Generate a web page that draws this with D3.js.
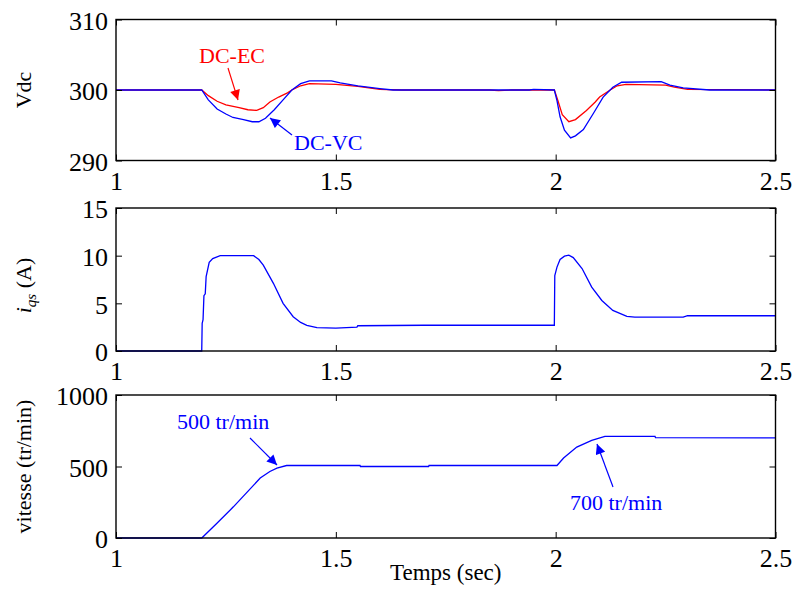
<!DOCTYPE html>
<html>
<head>
<meta charset="utf-8">
<script src="https://cdn.jsdelivr.net/npm/d3@7"></script>
<style>
  html, body { margin: 0; padding: 0; background: #fff; }
  svg { display: block; }
  text { font-family: "Liberation Serif", "Times New Roman", serif; }
</style>
</head>
<body>
<svg id="chart" width="792" height="590"></svg>
<script>
// ---------- DATA ----------
const xTicks = [1, 1.5, 2, 2.5];
const xTickLabels = ["1", "1.5", "2", "2.5"];

// Panel 1 : Vdc
const vdcTicks = [290, 300, 310];
const vdcEcTime = [1.0, 1.195, 1.21, 1.23, 1.25, 1.28, 1.30, 1.32, 1.335, 1.35, 1.37, 1.39, 1.40, 1.42, 1.44, 1.50, 1.55, 1.60, 1.65, 1.85, 1.87, 1.90, 1.997, 2.005, 2.015, 2.03, 2.045, 2.07, 2.09, 2.10, 2.124, 2.14, 2.16, 2.25, 2.27, 2.30, 2.5];
const vdcEc     = [300, 300, 299.2, 298.4, 297.9, 297.5, 297.2, 297.1, 297.5, 298.3, 299.0, 299.6, 300.0, 300.6, 300.9, 300.8, 300.5, 300.1, 300.0, 300.0, 299.9, 300.0, 300.0, 298.5, 296.5, 295.5, 295.8, 297.1, 298.3, 299.0, 300.0, 300.6, 300.8, 300.7, 300.4, 300.1, 300.0];
const vdcVcTime = [1.0, 1.195, 1.21, 1.23, 1.25, 1.266, 1.29, 1.31, 1.325, 1.34, 1.36, 1.38, 1.40, 1.42, 1.44, 1.49, 1.51, 1.55, 1.60, 1.63, 1.94, 1.95, 1.997, 2.003, 2.01, 2.02, 2.034, 2.045, 2.063, 2.086, 2.108, 2.13, 2.15, 2.24, 2.26, 2.29, 2.35, 2.5];
const vdcVc     = [300, 300, 298.6, 297.3, 296.6, 296.1, 295.8, 295.5, 295.5, 296.0, 297.2, 298.6, 300.0, 300.9, 301.3, 301.3, 301.0, 300.6, 300.2, 300.0, 300.0, 300.1, 300.0, 298.5, 296.2, 294.3, 293.2, 293.5, 294.4, 296.7, 299.0, 300.4, 301.1, 301.2, 300.7, 300.3, 300.0, 300.0];

// Panel 2 : iqs
const iqsTicks = [0, 5, 10, 15];
const iqsTime = [1.0, 1.195, 1.196, 1.198, 1.200, 1.203, 1.205, 1.212, 1.22, 1.237, 1.313, 1.325, 1.335, 1.358, 1.38, 1.403, 1.42, 1.434, 1.457, 1.50, 1.548, 1.55, 1.70, 1.997, 1.998, 2.003, 2.01, 2.02, 2.03, 2.04, 2.06, 2.082, 2.105, 2.13, 2.162, 2.18, 2.29, 2.30, 2.5];
const iqs     = [0, 0, 2.9, 3.3, 5.8, 6.0, 7.8, 9.3, 9.7, 10.0, 10.0, 9.6, 9.0, 7.1, 5.0, 3.6, 3.0, 2.7, 2.45, 2.4, 2.5, 2.65, 2.7, 2.7, 7.9, 8.8, 9.6, 9.95, 10.05, 9.8, 8.65, 6.7, 5.3, 4.26, 3.63, 3.55, 3.55, 3.7, 3.7];

// Panel 3 : vitesse
const speedTicks = [0, 500, 1000];
const speedTime = [1.0, 1.195, 1.229, 1.267, 1.328, 1.35, 1.366, 1.388, 1.555, 1.556, 1.711, 1.712, 2.003, 2.018, 2.048, 2.082, 2.112, 2.226, 2.227, 2.5];
const speed     = [0, 0, 101, 218, 419, 465, 489, 507, 507, 500, 500, 507, 507, 559, 636, 683, 711, 711, 702, 700];

// ---------- LAYOUT ----------
const svg = d3.select("#chart");
const X0 = 116, X1 = 775.5;
const panels = [
  { top: 19.5, bottom: 160.5, domain: [290, 310], ticks: vdcTicks, label: "Vdc",
    series: [{ t: vdcEcTime, v: vdcEc, color: "#ff0000" }, { t: vdcVcTime, v: vdcVc, color: "#0000ff" }] },
  { top: 208, bottom: 351, domain: [0, 15], ticks: iqsTicks, label: "iqs",
    series: [{ t: iqsTime, v: iqs, color: "#0000ff" }] },
  { top: 395, bottom: 538, domain: [0, 1000], ticks: speedTicks, label: "vitesse (tr/min)",
    series: [{ t: speedTime, v: speed, color: "#0000ff" }] }
];

const x = d3.scaleLinear().domain([1, 2.5]).range([X0, X1]);
const tickFont = 26;
const TICK = 6;

panels.forEach(p => {
  const y = d3.scaleLinear().domain(p.domain).range([p.bottom, p.top]);
  p.y = y;
  const g = svg.append("g");

  // series
  p.series.forEach(s => {
    const pts = s.t.map((t, i) => [t, s.v[i]]);
    g.append("path")
      .datum(pts)
      .attr("fill", "none")
      .attr("stroke", s.color)
      .attr("stroke-width", 1.3)
      .attr("d", d3.line().x(d => x(d[0])).y(d => y(d[1])));
  });

  // axes
  const ax = (gen, tr, showLabels) => {
    const a = g.append("g").attr("transform", tr).call(gen);
    a.select(".domain").remove();
    a.selectAll(".tick line").attr("stroke", "#000").attr("stroke-width", 1);
    a.selectAll("text").attr("font-size", tickFont).attr("fill", "#000")
      .attr("font-family", '"Liberation Serif", "Times New Roman", serif');
    if (!showLabels) a.selectAll("text").remove();
    return a;
  };
  ax(d3.axisBottom(x).tickValues(xTicks).tickFormat((d, i) => xTickLabels[i]).tickSizeInner(-TICK).tickSizeOuter(0).tickPadding(11),
     `translate(0,${p.bottom})`, true);
  ax(d3.axisTop(x).tickValues(xTicks).tickSizeInner(-TICK).tickSizeOuter(0), `translate(0,${p.top})`, false);
  const la = ax(d3.axisLeft(y).tickValues(p.ticks).tickFormat(d3.format("d")).tickSizeInner(-TICK).tickSizeOuter(0).tickPadding(8),
     `translate(${X0},0)`, true);
  la.selectAll("text").attr("dy", "0.38em");
  ax(d3.axisRight(y).tickValues(p.ticks).tickSizeInner(-TICK).tickSizeOuter(0), `translate(${X1},0)`, false);

  // frame
  g.append("rect")
    .attr("x", X0).attr("y", p.top)
    .attr("width", X1 - X0).attr("height", p.bottom - p.top)
    .attr("fill", "none").attr("stroke", "#000").attr("stroke-width", 1.4);

  // y label
  const cy = (p.top + p.bottom) / 2;
  const lab = svg.append("text")
    .attr("transform", `translate(31,${cy}) rotate(-90)`)
    .attr("text-anchor", "middle")
    .attr("font-size", 22)
    .attr("fill", "#000");
  if (p.label === "iqs") {
    lab.attr("transform", `translate(31,${cy + 6}) rotate(-90)`);
    lab.append("tspan").attr("font-style", "italic").text("i");
    lab.append("tspan").attr("font-style", "italic").attr("font-size", 15).attr("dy", 5).text("qs");
    lab.append("tspan").attr("dy", -5).text(" (A)");
  } else {
    lab.text(p.label);
  }
});

// x axis label
svg.append("text")
  .attr("x", (X0 + X1) / 2).attr("y", 580)
  .attr("text-anchor", "middle")
  .attr("font-size", 23)
  .attr("fill", "#000")
  .text("Temps (sec)");

// ---------- ANNOTATIONS ----------
const defs = svg.append("defs");
[["arrRed", "#ff0000"], ["arrBlue", "#0000ff"]].forEach(([id, c]) => {
  defs.append("marker")
    .attr("id", id).attr("viewBox", "0 0 10 10")
    .attr("refX", 10).attr("refY", 5)
    .attr("markerWidth", 11).attr("markerHeight", 10)
    .attr("markerUnits", "userSpaceOnUse")
    .attr("orient", "auto")
    .append("path").attr("d", "M0,0 L10,5 L0,10 Z").attr("fill", c);
});

function annotate(txt, tx, ty, color, marker, from, to) {
  svg.append("text").attr("x", tx).attr("y", ty)
    .attr("font-size", 22).attr("fill", color).text(txt);
  svg.append("line")
    .attr("x1", from[0]).attr("y1", from[1]).attr("x2", to[0]).attr("y2", to[1])
    .attr("stroke", color).attr("stroke-width", 1.2)
    .attr("marker-end", `url(#${marker})`);
}
annotate("DC-EC", 199, 63, "#ff0000", "arrRed", [228, 68], [238, 100]);
annotate("DC-VC", 294, 150, "#0000ff", "arrBlue", [292, 135], [270, 118]);
annotate("500 tr/min", 177, 429, "#0000ff", "arrBlue", [250, 438], [277, 465]);
annotate("700 tr/min", 570, 510, "#0000ff", "arrBlue", [613, 487], [597, 444]);
</script>
</body>
</html>
